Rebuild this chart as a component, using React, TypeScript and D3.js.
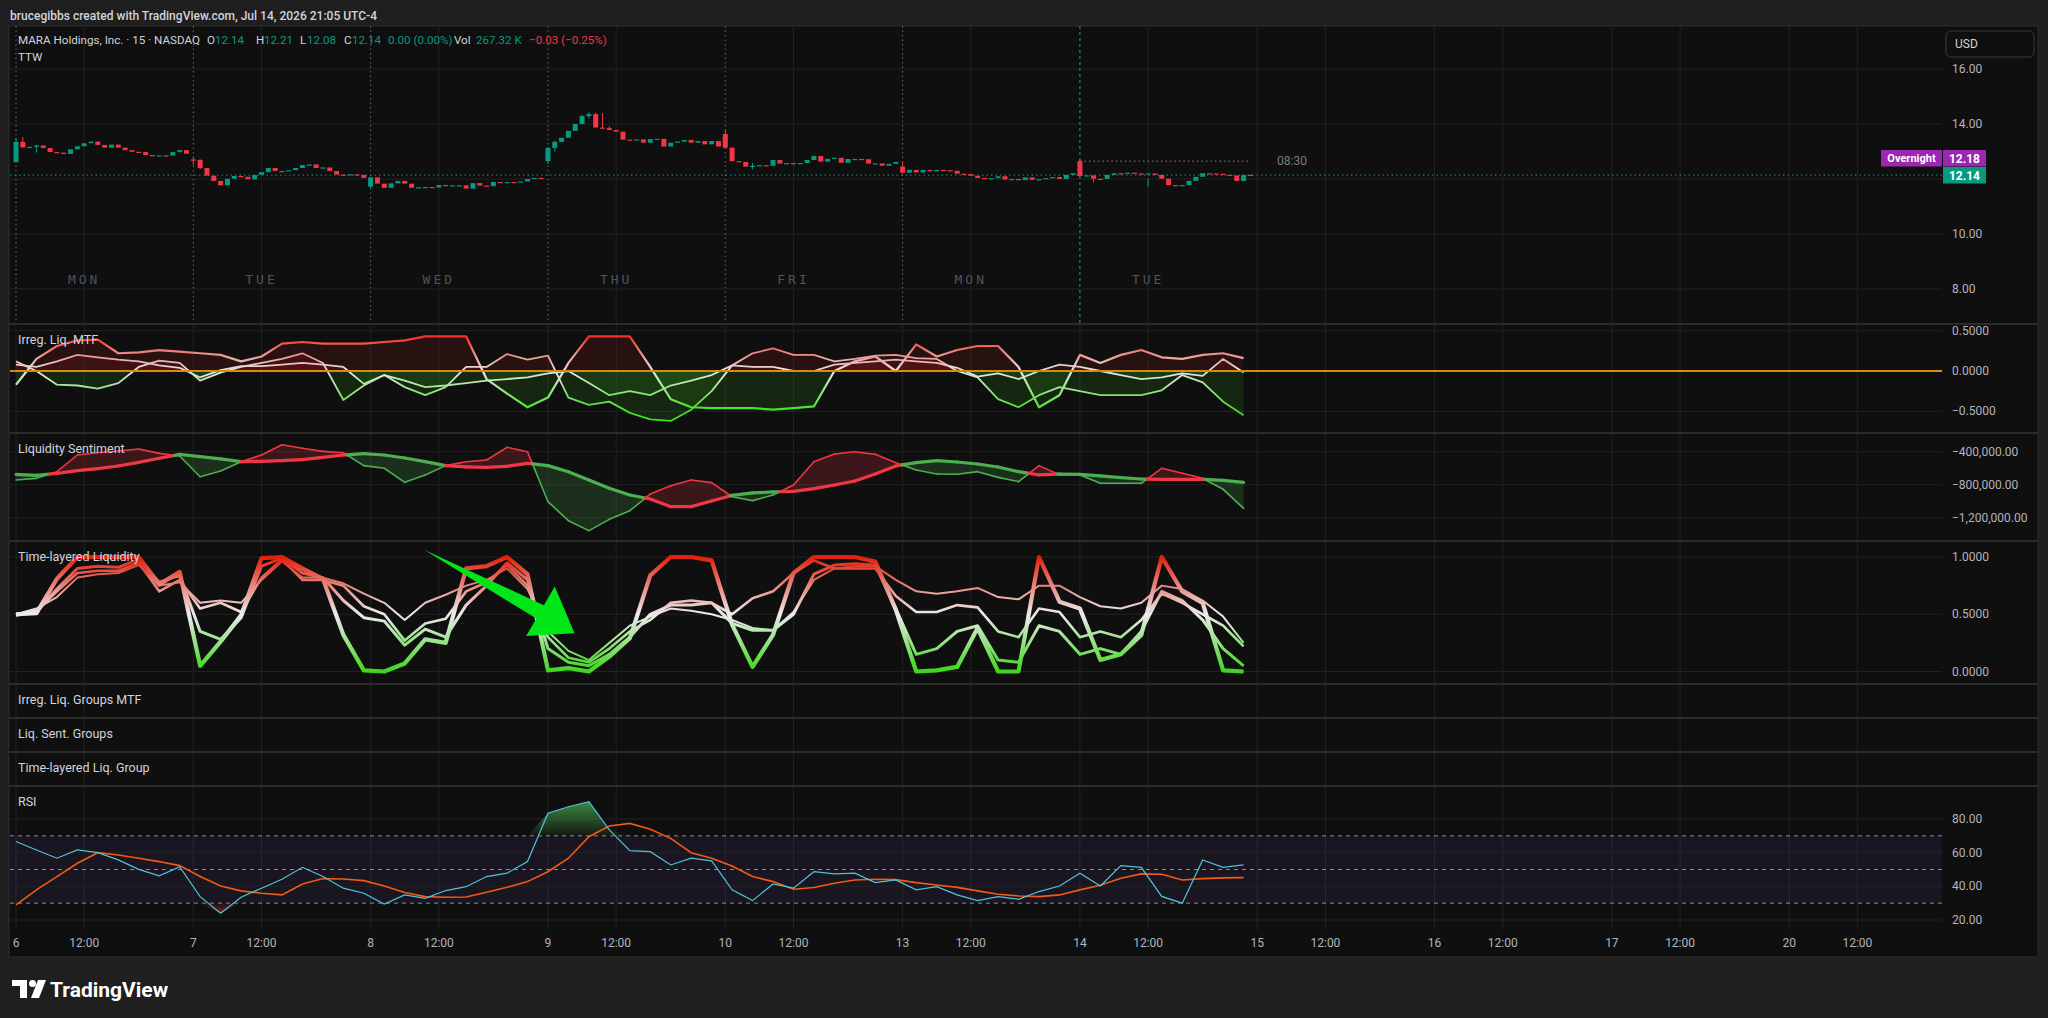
import React from "react";
import * as d3 from "d3";

// ---------- data ----------
const dayTicks = ["6", "7", "8", "9", "10", "13", "14", "15", "16", "17", "20"];
const sessionNames = ["MON", "TUE", "WED", "THU", "FRI", "MON", "TUE"];
const BARS_PER_DAY = 26; // 09:30 - 16:00 in 15m bars
const NOON_OFFSET = 10; // 12:00 bar inside a session
const SAMPLE_STEP = 3; // indicator readings every 3 bars

const dayOpens = [12.62, 12.71, 11.72, 12.65, 13.64, 12.45, 12.65];
const dayCloses = [
  [13.35, 13.15, 13.17, 13.22, 13.13, 12.98, 12.96, 12.91, 13.08, 13.19, 13.3, 13.36, 13.24, 13.14, 13.25, 13.14, 13.05, 12.99, 12.98, 12.87, 12.85, 12.86, 12.85, 12.98, 13.05, 12.92],
  [12.69, 12.4, 12.12, 11.93, 11.77, 12.01, 12.11, 12.08, 11.99, 12.15, 12.25, 12.4, 12.29, 12.28, 12.32, 12.4, 12.51, 12.53, 12.4, 12.42, 12.29, 12.16, 12.15, 12.17, 12.15, 12.04],
  [12.06, 11.83, 11.68, 11.84, 11.93, 11.83, 11.68, 11.7, 11.71, 11.69, 11.78, 11.76, 11.77, 11.77, 11.65, 11.85, 11.76, 11.74, 11.89, 11.88, 11.89, 11.88, 11.91, 12.0, 12.04, 12.02],
  [13.13, 13.35, 13.5, 13.75, 14.0, 14.29, 14.36, 13.87, 13.85, 13.78, 13.72, 13.43, 13.42, 13.44, 13.32, 13.45, 13.46, 13.18, 13.32, 13.36, 13.42, 13.32, 13.38, 13.26, 13.38, 13.18],
  [13.14, 12.65, 12.62, 12.45, 12.48, 12.5, 12.48, 12.69, 12.56, 12.58, 12.57, 12.58, 12.69, 12.84, 12.63, 12.73, 12.77, 12.59, 12.73, 12.73, 12.72, 12.56, 12.57, 12.48, 12.55, 12.62],
  [12.23, 12.33, 12.24, 12.33, 12.28, 12.33, 12.32, 12.3, 12.19, 12.18, 12.12, 12.04, 12.0, 12.03, 12.1, 11.98, 12.0, 11.96, 12.06, 11.97, 11.99, 12.03, 12.07, 12.0, 12.15, 12.21],
  [12.11, 12.13, 12.01, 12.0, 12.15, 12.21, 12.19, 12.23, 12.2, 12.19, 12.2, 12.15, 12.01, 11.78, 11.76, 11.78, 11.93, 12.08, 12.21, 12.2, 12.19, 12.15, 12.13, 11.93, 12.15, 12.14],
];
// [bar, high, low] for the visible wicks
const wicks: [number, number, number][] = [
  [0, 13.49, 12.6], [1, 13.53, 13.13], [3, 13.24, 12.96], [26, 12.79, 12.51], [27, 12.72, 12.35],
  [52, 12.08, 11.63], [78, 13.15, 12.55], [79, 13.4, 13.0], [83, 14.33, 13.98], [84, 14.42, 14.2],
  [85, 14.41, 14.28], [86, 14.4, 13.85], [87, 13.92, 13.78], [104, 13.8, 13.1], [108, 12.59, 12.35],
  [130, 12.65, 12.2], [156, 12.7, 12.08], [158, 12.05, 11.87], [166, 12.02, 11.72],
];

const priceTicks = [16, 14, 12, 10, 8];
const irrTicks = [0.5, 0, -0.5];
const sentTicks = [-400000, -800000, -1200000];
const tlTicks = [1, 0.5, 0];
const rsiTicks = [80, 60, 40, 20];
const rsiBands = [70, 50, 30];

const irrFast = [-0.17, 0.15, 0.31, 0.38, 0.39, 0.22, 0.23, 0.26, 0.24, 0.22, 0.2, 0.12, 0.18, 0.34, 0.36, 0.34, 0.34, 0.34, 0.36, 0.38, 0.43, 0.43, 0.43, -0.1, -0.28, -0.45, -0.33, 0.1, 0.43, 0.43, 0.43, 0.05, -0.35, -0.45, -0.46, -0.46, -0.46, -0.48, -0.46, -0.44, 0.0, 0.12, 0.18, 0.0, 0.33, 0.18, 0.26, 0.31, 0.31, 0.05, -0.45, -0.3, 0.2, 0.1, 0.2, 0.26, 0.17, 0.15, 0.2, 0.22, 0.16];
const irrMid = [0.12, 0.0, -0.17, -0.18, -0.22, -0.15, 0.05, 0.13, 0.1, -0.12, -0.02, 0.05, 0.1, 0.15, 0.22, 0.1, -0.36, -0.18, -0.05, -0.2, -0.3, -0.2, 0.05, 0.05, 0.21, 0.14, 0.19, -0.33, -0.42, -0.38, -0.52, -0.6, -0.62, -0.48, -0.25, 0.07, 0.22, 0.28, 0.2, 0.2, 0.12, 0.15, 0.19, 0.2, 0.16, 0.15, 0.0, -0.08, -0.35, -0.45, -0.3, -0.2, -0.25, -0.3, -0.3, -0.3, -0.24, -0.05, -0.14, -0.38, -0.55];
const irrSlow = [0.08, 0.05, 0.12, 0.2, 0.17, 0.14, 0.12, 0.07, 0.04, -0.08, 0.01, 0.06, 0.06, 0.08, 0.1, 0.08, 0.05, -0.16, -0.05, -0.12, -0.2, -0.18, -0.15, -0.12, -0.1, -0.08, -0.03, 0.0, -0.15, -0.3, -0.25, -0.3, -0.18, -0.12, -0.05, 0.07, 0.05, 0.05, 0.0, 0.0, 0.08, 0.1, 0.12, 0.14, 0.12, 0.1, 0.04, -0.07, -0.03, -0.1, 0.0, 0.08, 0.05, 0.0, -0.05, -0.1, -0.08, -0.03, -0.06, 0.15, -0.02];

const sentBase = [-674, -686, -662, -630, -606, -573, -529, -480, -432, -460, -488, -521, -517, -509, -497, -468, -440, -424, -440, -476, -521, -569, -585, -589, -577, -541, -569, -642, -743, -844, -925, -973, -1066, -1066, -997, -929, -900, -888, -880, -848, -804, -755, -670, -573, -533, -509, -525, -549, -585, -642, -682, -670, -674, -694, -715, -731, -735, -735, -735, -747, -771].map((v) => v * 1000);
const sentLine = [-743, -723, -642, -440, -412, -391, -367, -420, -452, -703, -634, -521, -440, -315, -359, -396, -412, -569, -601, -771, -682, -569, -521, -500, -347, -400, -1006, -1236, -1357, -1220, -1115, -913, -812, -743, -775, -945, -993, -925, -804, -521, -428, -400, -432, -533, -622, -670, -674, -642, -711, -763, -569, -682, -682, -783, -783, -783, -601, -662, -723, -856, -1087].map((v) => v * 1000);

const tlFast = [0.5, 0.51, 0.81, 1.0, 1.0, 1.0, 1.0, 0.76, 0.87, 0.05, 0.26, 0.49, 0.99, 1.0, 0.9, 0.81, 0.32, 0.01, 0.0, 0.07, 0.28, 0.25, 0.9, 0.92, 1.0, 0.85, 0.01, 0.03, 0.0, 0.13, 0.29, 0.84, 1.0, 1.0, 0.97, 0.41, 0.04, 0.32, 0.86, 1.0, 1.0, 1.0, 0.96, 0.54, 0.0, 0.01, 0.04, 0.38, 0.0, 0.0, 1.0, 0.61, 0.55, 0.1, 0.15, 0.32, 1.0, 0.7, 0.6, 0.01, 0.0];
const tlA = [0.49, 0.52, 0.72, 0.9, 0.92, 0.91, 0.98, 0.78, 0.84, 0.35, 0.28, 0.47, 0.92, 0.99, 0.86, 0.82, 0.62, 0.47, 0.44, 0.23, 0.37, 0.3, 0.58, 0.75, 0.95, 0.8, 0.2, 0.08, 0.05, 0.15, 0.3, 0.5, 0.58, 0.58, 0.6, 0.42, 0.36, 0.36, 0.5, 0.85, 0.93, 0.94, 0.93, 0.55, 0.15, 0.2, 0.35, 0.4, 0.1, 0.08, 0.4, 0.35, 0.15, 0.2, 0.15, 0.35, 0.7, 0.62, 0.45, 0.2, 0.05];
const tlB = [0.5, 0.53, 0.7, 0.86, 0.88, 0.88, 0.95, 0.7, 0.8, 0.55, 0.6, 0.52, 0.82, 0.98, 0.8, 0.8, 0.75, 0.57, 0.5, 0.27, 0.42, 0.46, 0.7, 0.78, 0.93, 0.75, 0.3, 0.12, 0.08, 0.2, 0.35, 0.45, 0.6, 0.62, 0.6, 0.5, 0.64, 0.7, 0.86, 0.97, 0.9, 0.9, 0.9, 0.66, 0.52, 0.52, 0.58, 0.56, 0.35, 0.3, 0.55, 0.52, 0.3, 0.35, 0.3, 0.45, 0.68, 0.6, 0.5, 0.4, 0.22];
const tlC = [0.5, 0.55, 0.65, 0.82, 0.85, 0.86, 0.93, 0.75, 0.78, 0.6, 0.62, 0.6, 0.8, 0.96, 0.82, 0.82, 0.77, 0.68, 0.6, 0.45, 0.6, 0.67, 0.75, 0.8, 0.9, 0.72, 0.35, 0.18, 0.1, 0.25, 0.4, 0.48, 0.55, 0.53, 0.5, 0.45, 0.38, 0.36, 0.52, 0.8, 0.9, 0.92, 0.92, 0.8, 0.7, 0.68, 0.7, 0.73, 0.65, 0.63, 0.75, 0.75, 0.65, 0.57, 0.55, 0.6, 0.75, 0.72, 0.62, 0.48, 0.25];

const rsiLine = [66.6, 61.6, 56.7, 61.6, 60.0, 55.7, 50.1, 46.2, 51.7, 33.9, 24.0, 33.5, 38.9, 44.2, 51.3, 45.8, 38.9, 35.9, 29.5, 34.9, 32.9, 37.5, 39.8, 45.8, 47.8, 54.7, 83.4, 87.3, 90.3, 73.5, 61.2, 60.6, 52.7, 56.7, 55.1, 37.9, 31.5, 41.4, 38.9, 48.7, 47.4, 47.8, 42.2, 43.8, 37.9, 39.8, 34.9, 31.5, 33.9, 32.3, 36.9, 40.2, 47.8, 40.2, 52.3, 51.3, 34, 30, 55.7, 51.3, 52.7];
const rsiMa = [29.0, 37.9, 45.8, 53.7, 60.0, 58.6, 56.7, 54.7, 52.3, 45.8, 40.2, 37.3, 35.9, 34.9, 41.4, 44.6, 44.4, 43.4, 40.2, 36.3, 33.9, 33.5, 33.7, 36.5, 39.4, 42.8, 48.7, 56.7, 69.5, 75.8, 77.4, 73.9, 68.5, 60.0, 56.7, 52.1, 45.8, 42.8, 38.3, 39.3, 41.8, 43.8, 44.2, 44.0, 42.2, 40.8, 39.4, 37.3, 35.3, 34.3, 33.9, 34.9, 37.9, 40.6, 44.8, 47.4, 47.2, 43.8, 44.6, 45.0, 45.2];

// green arrow drawing, [bar, value] in the Time-layered pane
const arrowPts: [number, number][] = [[59.9, 1.061], [77.4, 0.579], [79.0, 0.743], [81.9, 0.333], [74.8, 0.31], [76.3, 0.462]];

// ---------- layout ----------
const W = 2048, H = 1018;
const L = 10, R = 1942, AX = 1952;
const FONT = "Roboto, 'Noto Sans', sans-serif";
const TXT = "#d1d4dc", AXT = "#b2b5be", GRID = "#222222", SEP = "#2b2b2b";
const UP = "#089981", DOWN = "#f23645";
const panes = {
  price: [26, 324], irr: [324, 433], sent: [433, 541], tl: [541, 684],
  g1: [684, 718], g2: [718, 752], g3: [752, 786], rsi: [786, 930],
};

export default function App() {
  const x = d3.scaleLinear().domain([0, 260]).range([16, 1789.2]);
  const sx = (i: number) => x(i * SAMPLE_STEP);
  const priceY = d3.scaleLinear().domain([8, 16]).range([289, 69]);
  const irrY = d3.scaleLinear().domain([-0.5, 0.5]).range([411.3, 330.7]);
  const sentY = d3.scaleLinear().domain([-1200000, -400000]).range([517.7, 451.7]);
  const tlY = d3.scaleLinear().domain([0, 1]).range([671.5, 557]);
  const rsiY = d3.scaleLinear().domain([20, 80]).range([920, 819]);

  const dayBars = dayTicks.map((_, k) => k * BARS_PER_DAY);
  const noonBars = dayBars.map((b) => b + NOON_OFFSET);
  const allTicks = [...dayBars, ...noonBars];

  const candles = dayCloses.flatMap((closes, d) =>
    closes.map((c, i) => ({ b: d * BARS_PER_DAY + i, o: i === 0 ? dayOpens[d] : closes[i - 1], c }))
  );
  const wickMap = new Map(wicks.map(([b, h, l]) => [b, { h, l }]));
  const last = candles[candles.length - 1];

  const lineOf = (y: d3.ScaleLinear<number, number>) =>
    d3.line<number>().x((_, i) => sx(i)).y((v) => y(v));
  const irrLine = lineOf(irrY), tlLine = lineOf(tlY), rsiPath = lineOf(rsiY);
  const irrArea = d3.area<number>().x((_, i) => sx(i)).y0(irrY(0)).y1((v) => irrY(v));

  // sentiment pieces split at crossings
  type Piece = { xa: number; xb: number; na: number; nb: number; ta: number; tb: number; up: boolean };
  const pieces: Piece[] = [];
  for (let i = 0; i < sentLine.length - 1; i++) {
    const xa = sx(i), xb = sx(i + 1);
    const d0 = sentLine[i] - sentBase[i], d1 = sentLine[i + 1] - sentBase[i + 1];
    if (d0 * d1 < 0) {
      const k = d0 / (d0 - d1);
      const xc = xa + k * (xb - xa);
      const nc = sentLine[i] + k * (sentLine[i + 1] - sentLine[i]);
      pieces.push({ xa, xb: xc, na: sentLine[i], nb: nc, ta: sentBase[i], tb: nc, up: d0 > 0 });
      pieces.push({ xa: xc, xb, na: nc, nb: sentLine[i + 1], ta: nc, tb: sentBase[i + 1], up: d1 > 0 });
    } else {
      pieces.push({ xa, xb, na: sentLine[i], nb: sentLine[i + 1], ta: sentBase[i], tb: sentBase[i + 1], up: d0 + d1 >= 0 });
    }
  }

  const minus = (s: string) => s.replace("-", "\u2212");
  const f4 = (v: number) => minus(v.toFixed(4));
  const fSent = (v: number) => minus(d3.format(",.2f")(v));

  const vGrid = (top: number, bottom: number, skipSessions = false) =>
    allTicks.map((b, k) =>
      skipSessions && k < 7 ? null : (
        <line key={"v" + b} x1={x(b)} x2={x(b)} y1={top} y2={bottom} stroke={GRID} />
      )
    );
  const hGrid = (vals: number[], y: (v: number) => number) =>
    vals.map((v) => <line key={"h" + v} x1={L} x2={R} y1={y(v)} y2={y(v)} stroke={GRID} />);
  const axisLabels = (vals: number[], y: (v: number) => number, fmt: (v: number) => string) =>
    vals.map((v) => (
      <text key={"a" + v} x={AX} y={y(v) + 4} fill={AXT} fontSize={12}>{fmt(v)}</text>
    ));
  const paneLabel = (t: string, y: number) => (
    <text x={18} y={y} fill={TXT} fontSize={12.5}>{t}</text>
  );

  return (
    <svg width={W} height={H} style={{ position: "fixed", left: 0, top: 0 }} fontFamily={FONT}>
      <defs>
        <linearGradient id="irrGrad" gradientUnits="userSpaceOnUse" x1={0} x2={0} y1={irrY(0.45)} y2={irrY(-0.5)}>
          <stop offset="0" stopColor="#f2281c" />
          <stop offset="0.474" stopColor="#e8e8e8" />
          <stop offset="1" stopColor="#3ee01e" />
        </linearGradient>
        <linearGradient id="tlGrad" gradientUnits="userSpaceOnUse" x1={0} x2={0} y1={tlY(1)} y2={tlY(0)}>
          <stop offset="0" stopColor="#e41e0c" />
          <stop offset="0.5" stopColor="#ececec" />
          <stop offset="1" stopColor="#3ed61c" />
        </linearGradient>
        <linearGradient id="rsiUpGrad" gradientUnits="userSpaceOnUse" x1={0} x2={0} y1={rsiY(90)} y2={rsiY(70)}>
          <stop offset="0" stopColor="#4caf50" stopOpacity={0.75} />
          <stop offset="1" stopColor="#4caf50" stopOpacity={0.05} />
        </linearGradient>
        <linearGradient id="rsiDnGrad" gradientUnits="userSpaceOnUse" x1={0} x2={0} y1={rsiY(30)} y2={rsiY(22)}>
          <stop offset="0" stopColor="#f23645" stopOpacity={0.05} />
          <stop offset="1" stopColor="#f23645" stopOpacity={0.6} />
        </linearGradient>
        <clipPath id="irrUp"><rect x={L} y={panes.irr[0]} width={R - L} height={irrY(0) - panes.irr[0]} /></clipPath>
        <clipPath id="irrDn"><rect x={L} y={irrY(0)} width={R - L} height={panes.irr[1] - irrY(0)} /></clipPath>
        <clipPath id="irrPane"><rect x={L} y={panes.irr[0]} width={R - L} height={panes.irr[1] - panes.irr[0]} /></clipPath>
        <clipPath id="tlPane"><rect x={L} y={panes.tl[0] + 1} width={R - L} height={panes.tl[1] - panes.tl[0] - 1} /></clipPath>
      </defs>

      <rect width={W} height={H} fill="#1f1f1f" />
      <text x={10} y={20} fill={TXT} fontSize={12} fontWeight={500} textLength={367} lengthAdjust="spacingAndGlyphs">
        brucegibbs created with TradingView.com, Jul 14, 2026 21:05 UTC-4
      </text>
      <rect x={9} y={26} width={2029} height={931} fill="#0f0f0f" stroke="#2e2e2e" />

      {/* ---------- price pane ---------- */}
      {vGrid(panes.price[0], panes.price[1], true)}
      {hGrid(priceTicks, priceY)}
      {dayBars.slice(0, 7).map((b, d) => (
        <line key={"s" + b} x1={x(b)} x2={x(b)} y1={panes.price[0]} y2={panes.price[1]}
          stroke={d === 6 ? "#2a9d8f" : "#6a6a6a"} strokeDasharray={d === 6 ? "3 3" : "1.5 3"} />
      ))}
      {sessionNames.map((n, d) => (
        <text key={"n" + d} x={x(d * BARS_PER_DAY + NOON_OFFSET)} y={284} fill="#50535b" fontSize={13}
          textAnchor="middle" letterSpacing={3} fontFamily="'DejaVu Sans Mono', monospace">{n}</text>
      ))}
      <line x1={L} x2={R} y1={priceY(last.c)} y2={priceY(last.c)} stroke={UP} strokeDasharray="1.5 3" />
      <line x1={x(156)} x2={x(181)} y1={priceY(dayOpens[6])} y2={priceY(dayOpens[6])} stroke="#8a8a8a" strokeDasharray="1.5 3" />
      <text x={1277} y={priceY(dayOpens[6]) + 4} fill="#787b86" fontSize={12}>08:30</text>
      {candles.map((k) => {
        const col = k.c >= k.o ? UP : DOWN;
        const w = wickMap.get(k.b);
        const top = priceY(Math.max(k.o, k.c));
        const h = Math.max(1.2, priceY(Math.min(k.o, k.c)) - top);
        return (
          <g key={"c" + k.b}>
            {w && <line x1={x(k.b)} x2={x(k.b)} y1={priceY(w.h)} y2={priceY(w.l)} stroke={col} />}
            <rect x={x(k.b) - 2.5} y={top} width={5} height={h} fill={col} />
          </g>
        );
      })}
      <g fontSize={11.6} fill={TXT}>
        <text x={18} y={44} textLength={182} lengthAdjust="spacingAndGlyphs">MARA Holdings, Inc. · 15 · NASDAQ</text>
        <text y={44}>
          <tspan x={207}>O</tspan><tspan x={215} fill={UP}>12.14</tspan>
          <tspan x={256}>H</tspan><tspan x={264} fill={UP}>12.21</tspan>
          <tspan x={300}>L</tspan><tspan x={307} fill={UP}>12.08</tspan>
          <tspan x={344}>C</tspan><tspan x={352} fill={UP}>12.14</tspan>
          <tspan x={388} fill={UP}>0.00 (0.00%)</tspan>
          <tspan x={454}>Vol</tspan><tspan x={476} fill={UP}>267.32 K</tspan>
          <tspan x={529} fill={DOWN}>−0.03 (−0.25%)</tspan>
        </text>
        <text x={18} y={61}>TTW</text>
      </g>
      <rect x={1946} y={31} width={88} height={26} rx={5} fill="#0f0f0f" stroke="#3a3a3a" />
      <text x={1955} y={48} fill={TXT} fontSize={12}>USD</text>
      {axisLabels(priceTicks, priceY, (v) => v.toFixed(2))}
      <rect x={1881} y={150} width={61} height={16.5} fill="#9c27b0" />
      <text x={1911.5} y={162} fill="#fff" fontSize={11} fontWeight={700} textAnchor="middle">Overnight</text>
      <rect x={1943} y={150} width={43} height={16.5} fill="#9c27b0" />
      <text x={1964.5} y={162.5} fill="#fff" fontSize={12} fontWeight={700} textAnchor="middle">12.18</text>
      <rect x={1943} y={167} width={43} height={16.5} fill={UP} />
      <text x={1964.5} y={179.5} fill="#fff" fontSize={12} fontWeight={700} textAnchor="middle">{last.c.toFixed(2)}</text>

      {/* ---------- Irreg. Liq. MTF ---------- */}
      {vGrid(panes.irr[0], panes.irr[1])}
      {hGrid(irrTicks, irrY)}
      {[irrFast, irrMid, irrSlow].map((s, k) => (
        <g key={"ia" + k}>
          <path d={irrArea(s)!} fill="#d42020" fillOpacity={0.13} clipPath="url(#irrUp)" />
          <path d={irrArea(s)!} fill="#3bbf22" fillOpacity={0.13} clipPath="url(#irrDn)" />
        </g>
      ))}
      <g clipPath="url(#irrPane)">
        {[irrSlow, irrMid, irrFast].map((s, k) => (
          <path key={"il" + k} d={irrLine(s)!} fill="none" stroke="url(#irrGrad)" strokeWidth={k === 2 ? 2.2 : 1.8} strokeLinejoin="round" />
        ))}
      </g>
      <line x1={L} x2={R} y1={irrY(0)} y2={irrY(0)} stroke="#d98a10" strokeWidth={2} />
      {paneLabel("Irreg. Liq. MTF", 344)}
      {axisLabels(irrTicks, irrY, f4)}

      {/* ---------- Liquidity Sentiment ---------- */}
      {vGrid(panes.sent[0], panes.sent[1])}
      {hGrid(sentTicks, sentY)}
      {pieces.map((p, k) => (
        <polygon key={"sp" + k}
          points={`${p.xa},${sentY(p.na)} ${p.xb},${sentY(p.nb)} ${p.xb},${sentY(p.tb)} ${p.xa},${sentY(p.ta)}`}
          fill={p.up ? DOWN : "#4caf50"} fillOpacity={0.2} />
      ))}
      {pieces.map((p, k) => (
        <line key={"sn" + k} x1={p.xa} x2={p.xb} y1={sentY(p.na)} y2={sentY(p.nb)}
          stroke={p.up ? DOWN : "#4caf50"} strokeWidth={1.6} strokeLinecap="round" />
      ))}
      {pieces.map((p, k) => (
        <line key={"st" + k} x1={p.xa} x2={p.xb} y1={sentY(p.ta)} y2={sentY(p.tb)}
          stroke={p.up ? DOWN : "#4caf50"} strokeWidth={3.2} strokeLinecap="round" />
      ))}
      {paneLabel("Liquidity Sentiment", 453)}
      {axisLabels(sentTicks, sentY, fSent)}

      {/* ---------- Time-layered Liquidity ---------- */}
      {vGrid(panes.tl[0], panes.tl[1])}
      {hGrid(tlTicks, tlY)}
      <g clipPath="url(#tlPane)">
        {[tlC, tlB, tlA, tlFast].map((s, k) => (
          <path key={"tl" + k} d={tlLine(s)!} fill="none" stroke="url(#tlGrad)"
            strokeWidth={[2, 2.6, 3, 4.2][k]} strokeLinejoin="round" />
        ))}
      </g>
      <polygon points={arrowPts.map(([b, v]) => `${x(b)},${tlY(v)}`).join(" ")} fill="#00e619" />
      {paneLabel("Time-layered Liquidity", 561)}
      {axisLabels(tlTicks, tlY, f4)}

      {/* ---------- empty group panes ---------- */}
      {[panes.g1, panes.g2, panes.g3].map((p, k) => (
        <g key={"g" + k}>{vGrid(p[0], p[1])}</g>
      ))}
      {paneLabel("Irreg. Liq. Groups MTF", 704)}
      {paneLabel("Liq. Sent. Groups", 738)}
      {paneLabel("Time-layered Liq. Group", 772)}

      {/* ---------- RSI ---------- */}
      {vGrid(panes.rsi[0], panes.rsi[1])}
      <rect x={L} y={rsiY(70)} width={R - L} height={rsiY(30) - rsiY(70)} fill="#7e57c2" fillOpacity={0.1} />
      {hGrid(rsiTicks, rsiY)}
      {rsiBands.map((v) => (
        <line key={"b" + v} x1={L} x2={R} y1={rsiY(v)} y2={rsiY(v)} stroke="#8a8d96" strokeDasharray="4 4" />
      ))}
      <path d={d3.area<number>().x((_, i) => sx(i)).y0(rsiY(70)).y1((v) => rsiY(Math.max(v, 70)))(rsiLine)!} fill="url(#rsiUpGrad)" />
      <path d={d3.area<number>().x((_, i) => sx(i)).y0(rsiY(30)).y1((v) => rsiY(Math.min(v, 30)))(rsiLine)!} fill="url(#rsiDnGrad)" />
      <path d={rsiPath(rsiMa)!} fill="none" stroke="#f05a14" strokeWidth={1.6} />
      <path d={rsiPath(rsiLine)!} fill="none" stroke="#4fc3d9" strokeWidth={1.2} />
      {paneLabel("RSI", 806)}
      {axisLabels(rsiTicks, rsiY, (v) => v.toFixed(2))}

      {/* pane separators */}
      {[panes.irr[0], panes.sent[0], panes.tl[0], panes.g1[0], panes.g2[0], panes.g3[0], panes.rsi[0]].map((y) => (
        <line key={"sep" + y} x1={9} x2={2038} y1={y} y2={y} stroke={SEP} strokeWidth={2} />
      ))}

      {/* time axis */}
      {dayBars.map((b, k) => (
        <text key={"t" + b} x={x(b)} y={947} fill={AXT} fontSize={12} textAnchor="middle">{dayTicks[k]}</text>
      ))}
      {noonBars.map((b) => (
        <text key={"t" + b} x={x(b)} y={947} fill={AXT} fontSize={12} textAnchor="middle">12:00</text>
      ))}

      {/* TradingView logo */}
      <g fill="#ffffff">
        <path d="M12 980 H27 V998 H20 V986 H12 Z" />
        <circle cx={32.5} cy={983.5} r={3.5} />
        <path d="M38 980 H46 L39 998 H31 Z" />
        <text x={50} y={997} fontSize={21} fontWeight={700}>TradingView</text>
      </g>
    </svg>
  );
}
